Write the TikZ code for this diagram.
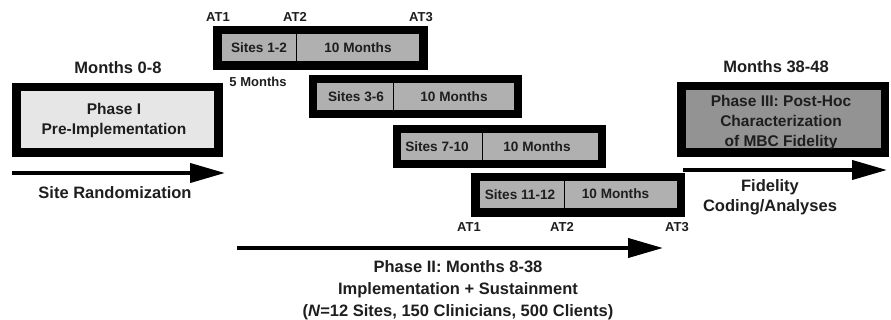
\documentclass[tikz,border=0pt]{standalone}
\usepackage{fontspec}
\setmainfont{Liberation Sans}
\usetikzlibrary{arrows.meta}
\definecolor{txt}{HTML}{1E1E1E}
\definecolor{lightfill}{HTML}{E6E6E6}
\definecolor{sitefill}{HTML}{B0B0B0}
\definecolor{darkfill}{HTML}{939393}
\begin{document}
\begin{tikzpicture}[x=1pt,y=-1pt,
  frame/.style={draw=black, line width=8.5pt, inner sep=0pt, outer sep=0pt},
  cellsep/.style={draw=black, line width=0.8pt},
  lbl/.style={text=txt, font=\fontsize{16.5}{22}\selectfont\bfseries, align=center, inner sep=0pt},
  boxtxt/.style={text=txt, font=\fontsize{15.5}{20}\selectfont\bfseries, align=center, inner sep=0pt},
  sitetxt/.style={text=txt, font=\fontsize{13.6}{16}\selectfont\bfseries, inner sep=0pt},
  attxt/.style={text=txt, font=\fontsize{13}{15}\selectfont\bfseries, inner sep=0pt},
  bigarrow/.style={line width=4pt, black, -{Triangle[length=35pt,width=19pt]}},
]
\useasboundingbox (0,0) rectangle (891,320);

% Phase I
\node[lbl] (m08) at (118,68) {Months 0-8};
\node[frame, fill=lightfill, minimum width=202pt, minimum height=65.5pt] (p1) at (117.3,120) {};
\node[boxtxt] (p1t) at (114,120) {Phase I\\Pre-Implementation};
\coordinate (a1s) at (12,173);
\coordinate (a1e) at (225,173);
\draw[bigarrow] (a1s) -- (a1e);
\node[lbl] (sr) at (115,193) {Site Randomization};

% Row 1
\node[frame, fill=sitefill, minimum width=206pt, minimum height=35.5pt] (r1) at (320.5,48) {};
\coordinate (d1) at (296,48);
\draw[cellsep] (d1 |- r1.north) -- (d1 |- r1.south);
\node[sitetxt] (r1a) at (259,48) {Sites 1-2};
\node[sitetxt] (r1b) at (358,48) {10 Months};
\node[attxt] (at11) at (218,17) {AT1};
\node[attxt] (at12) at (295,17) {AT2};
\node[attxt] (at13) at (421,17) {AT3};
\node[attxt] (fm) at (258,82) {5 Months};

% Row 2
\node[frame, fill=sitefill, minimum width=205pt, minimum height=35pt] (r2) at (415.5,96.5) {};
\coordinate (d2) at (393,96.5);
\draw[cellsep] (d2 |- r2.north) -- (d2 |- r2.south);
\node[sitetxt] (r2a) at (356,97) {Sites 3-6};
\node[sitetxt] (r2b) at (454,97) {10 Months};

% Row 3
\node[frame, fill=sitefill, minimum width=205pt, minimum height=35pt] (r3) at (499.5,146.5) {};
\coordinate (d3) at (482,146.5);
\draw[cellsep] (d3 |- r3.north) -- (d3 |- r3.south);
\node[sitetxt] (r3a) at (437,147) {Sites 7-10};
\node[sitetxt] (r3b) at (537,147) {10 Months};

% Row 4
\node[frame, fill=sitefill, minimum width=205.5pt, minimum height=35.5pt] (r4) at (578,195) {};
\coordinate (d4) at (564,195);
\draw[cellsep] (d4 |- r4.north) -- (d4 |- r4.south);
\node[sitetxt] (r4a) at (520,195) {Sites 11-12};
\node[sitetxt] (r4b) at (615.5,194) {10 Months};
\node[attxt] (at41) at (469,227) {AT1};
\node[attxt] (at42) at (562,227) {AT2};
\node[attxt] (at43) at (677,227) {AT3};

% Phase II arrow and text
\coordinate (a2s) at (237,248);
\coordinate (a2e) at (663,248);
\draw[bigarrow] (a2s) -- (a2e);
\node[lbl, font=\fontsize{16.5}{22}\selectfont\bfseries] (p2t) at (458,290) {Phase II: Months 8-38\\Implementation + Sustainment\\(\textit{N}=12 Sites, 150 Clinicians, 500 Clients)};

% Phase III
\node[lbl] (m3848) at (776,67) {Months 38-48};
\node[frame, fill=darkfill, minimum width=203.5pt, minimum height=66.5pt] (p3) at (783,119.5) {};
\node[boxtxt] (p3t) at (781,122) {Phase III: Post-Hoc\\Characterization\\of MBC Fidelity};
\coordinate (a3s) at (683,170);
\coordinate (a3e) at (887,170);
\draw[bigarrow] (a3s) -- (a3e);
\node[lbl, font=\fontsize{16.5}{20}\selectfont\bfseries] (fc) at (770,197) {Fidelity\\Coding/Analyses};
\end{tikzpicture}
\end{document}
